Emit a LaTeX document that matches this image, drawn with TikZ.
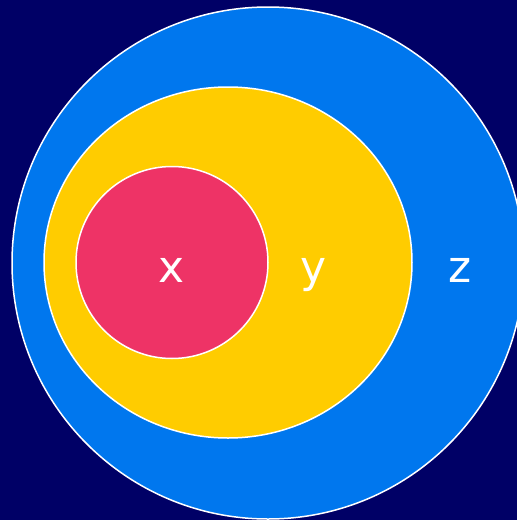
\documentclass[tikz,border=0pt]{standalone}
\usepackage{fontspec}
\setmainfont{DejaVu Sans}
\definecolor{bg}{HTML}{000066}
\definecolor{zblue}{HTML}{0077EE}
\definecolor{yyel}{HTML}{FFCC00}
\definecolor{xred}{HTML}{EE3366}
\begin{document}
\begin{tikzpicture}[x=1pt,y=-1pt,
  setshape/.style={draw=white,line width=1.5pt},
  lbl/.style={text=white,font=\fontsize{44}{50}\selectfont,inner sep=0pt}]
\fill[bg] (0,0) rectangle (517,520);
\useasboundingbox (0,0) rectangle (517,520);
\begin{scope}
\clip (0,0) rectangle (517,520);
\filldraw[setshape,fill=zblue] (268,263) circle[radius=256];
\filldraw[setshape,fill=yyel] (228,262.5) ellipse[x radius=184,y radius=175.5];
\filldraw[setshape,fill=xred] (172,262.5) circle[radius=96];
\end{scope}
\node[lbl,anchor=base] (x) at (172,282) {x};
\node[lbl,anchor=base] (y) at (314,282) {y};
\node[lbl,anchor=base] (z) at (460,282) {z};
\end{tikzpicture}
\end{document}
